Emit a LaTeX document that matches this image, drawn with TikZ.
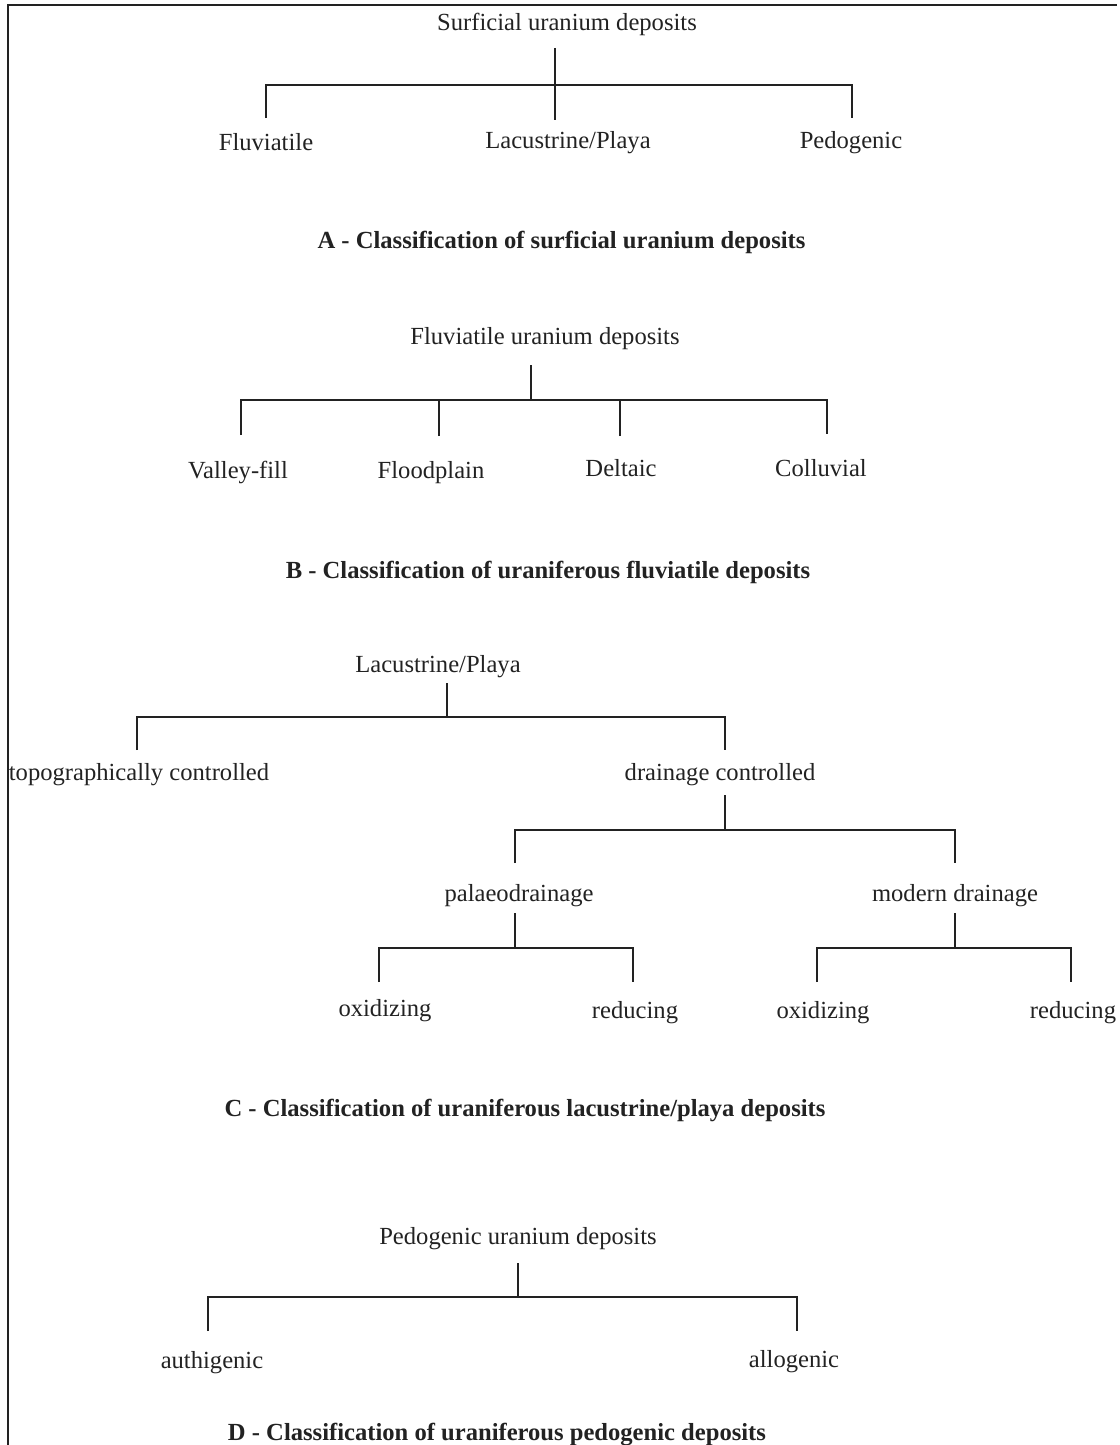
\documentclass[tikz,border=0pt]{standalone}
\usepackage{fontspec}
\setmainfont{Liberation Serif}
\definecolor{ink}{HTML}{222222}
\begin{document}
\begin{tikzpicture}[x=1pt,y=-1pt,
  lbl/.style={anchor=base,inner sep=0pt,text=ink,font=\fontsize{24.6}{30}\selectfont},
  ttl/.style={lbl,font=\fontsize{24.6}{30}\selectfont\bfseries},
  link/.style={draw=ink,line width=1.9pt},
  frame/.style={draw=ink,line width=1.8pt}]
\useasboundingbox (0,0) rectangle (1119,1445);
% frame
\coordinate (fTL) at (8,5);
\coordinate (fTR) at (1117,5);
\coordinate (fBL) at (8,1446);
\draw[frame] (fBL) -- (fTL) -- (fTR);

% ---------- A ----------
\node[lbl] (sA) at (567,31) {Surficial uranium deposits};
\node[lbl] (a1) at (266,150) {Fluviatile};
\node[lbl] (a2) at (568,148) {Lacustrine/Playa};
\node[lbl] (a3) at (851,148) {Pedogenic};
\node[ttl] (tA) at (561.5,248) {A - Classification of surficial uranium deposits};
\coordinate (sA-t) at (555,48);
\coordinate (jA) at (555,85);
\coordinate (a1-t) at (266,118);
\coordinate (a2-t) at (555,120);
\coordinate (a3-t) at (852,118);
\draw[link] (sA-t) -- (a2-t);
\draw[link] (a1-t) |- (jA) -| (a3-t);

% ---------- B ----------
\node[lbl] (sB) at (545,344) {Fluviatile uranium deposits};
\node[lbl] (b1) at (238,478) {Valley-fill};
\node[lbl] (b2) at (431,478) {Floodplain};
\node[lbl] (b3) at (621,476) {Deltaic};
\node[lbl] (b4) at (821,476) {Colluvial};
\node[ttl] (tB) at (548,578) {B - Classification of uraniferous fluviatile deposits};
\coordinate (sB-t) at (531,365);
\coordinate (jB) at (531,400);
\coordinate (b1-t) at (241,435);
\coordinate (b2-t) at (439,436);
\coordinate (b3-t) at (620,436);
\coordinate (b4-t) at (827,434);
\draw[link] (sB-t) -- (jB);
\draw[link] (b1-t) |- (jB) -| (b4-t);
\draw[link] (b2-t) -- (b2-t |- jB);
\draw[link] (b3-t) -- (b3-t |- jB);

% ---------- C ----------
\node[lbl] (sC) at (438,672) {Lacustrine/Playa};
\node[lbl] (c1) at (139,780) {topographically controlled};
\node[lbl] (c2) at (720,780) {drainage controlled};
\node[lbl] (c21) at (519,901) {palaeodrainage};
\node[lbl] (c22) at (955,901) {modern drainage};
\node[lbl] (c211) at (385,1016) {oxidizing};
\node[lbl] (c212) at (635,1018) {reducing};
\node[lbl] (c221) at (823,1018) {oxidizing};
\node[lbl] (c222) at (1073,1018) {reducing};
\node[ttl] (tC) at (525,1116) {C - Classification of uraniferous lacustrine/playa deposits};
\coordinate (sC-t) at (447,683);
\coordinate (jC) at (447,717);
\coordinate (c1-t) at (137,750);
\coordinate (c2-t) at (725,750);
\draw[link] (sC-t) -- (jC);
\draw[link] (c1-t) |- (jC) -| (c2-t);
\coordinate (c2-b) at (725,795);
\coordinate (jC2) at (725,830);
\coordinate (c21-t) at (515,863);
\coordinate (c22-t) at (955,863);
\draw[link] (c2-b) -- (jC2);
\draw[link] (c21-t) |- (jC2) -| (c22-t);
\coordinate (c21-b) at (515,913);
\coordinate (jC21) at (515,948);
\coordinate (c211-t) at (379,982);
\coordinate (c212-t) at (633,982);
\draw[link] (c21-b) -- (jC21);
\draw[link] (c211-t) |- (jC21) -| (c212-t);
\coordinate (c22-b) at (955,913);
\coordinate (jC22) at (955,948);
\coordinate (c221-t) at (817,982);
\coordinate (c222-t) at (1071,982);
\draw[link] (c22-b) -- (jC22);
\draw[link] (c221-t) |- (jC22) -| (c222-t);

% ---------- D ----------
\node[lbl] (sD) at (518,1244) {Pedogenic uranium deposits};
\node[lbl] (d1) at (212,1368) {authigenic};
\node[lbl] (d2) at (794,1367) {allogenic};
\node[ttl] (tD) at (497,1440) {D - Classification of uraniferous pedogenic deposits};
\coordinate (sD-t) at (518,1263);
\coordinate (jD) at (518,1297);
\coordinate (d1-t) at (208,1331);
\coordinate (d2-t) at (797,1331);
\draw[link] (sD-t) -- (jD);
\draw[link] (d1-t) |- (jD) -| (d2-t);
\end{tikzpicture}
\end{document}
